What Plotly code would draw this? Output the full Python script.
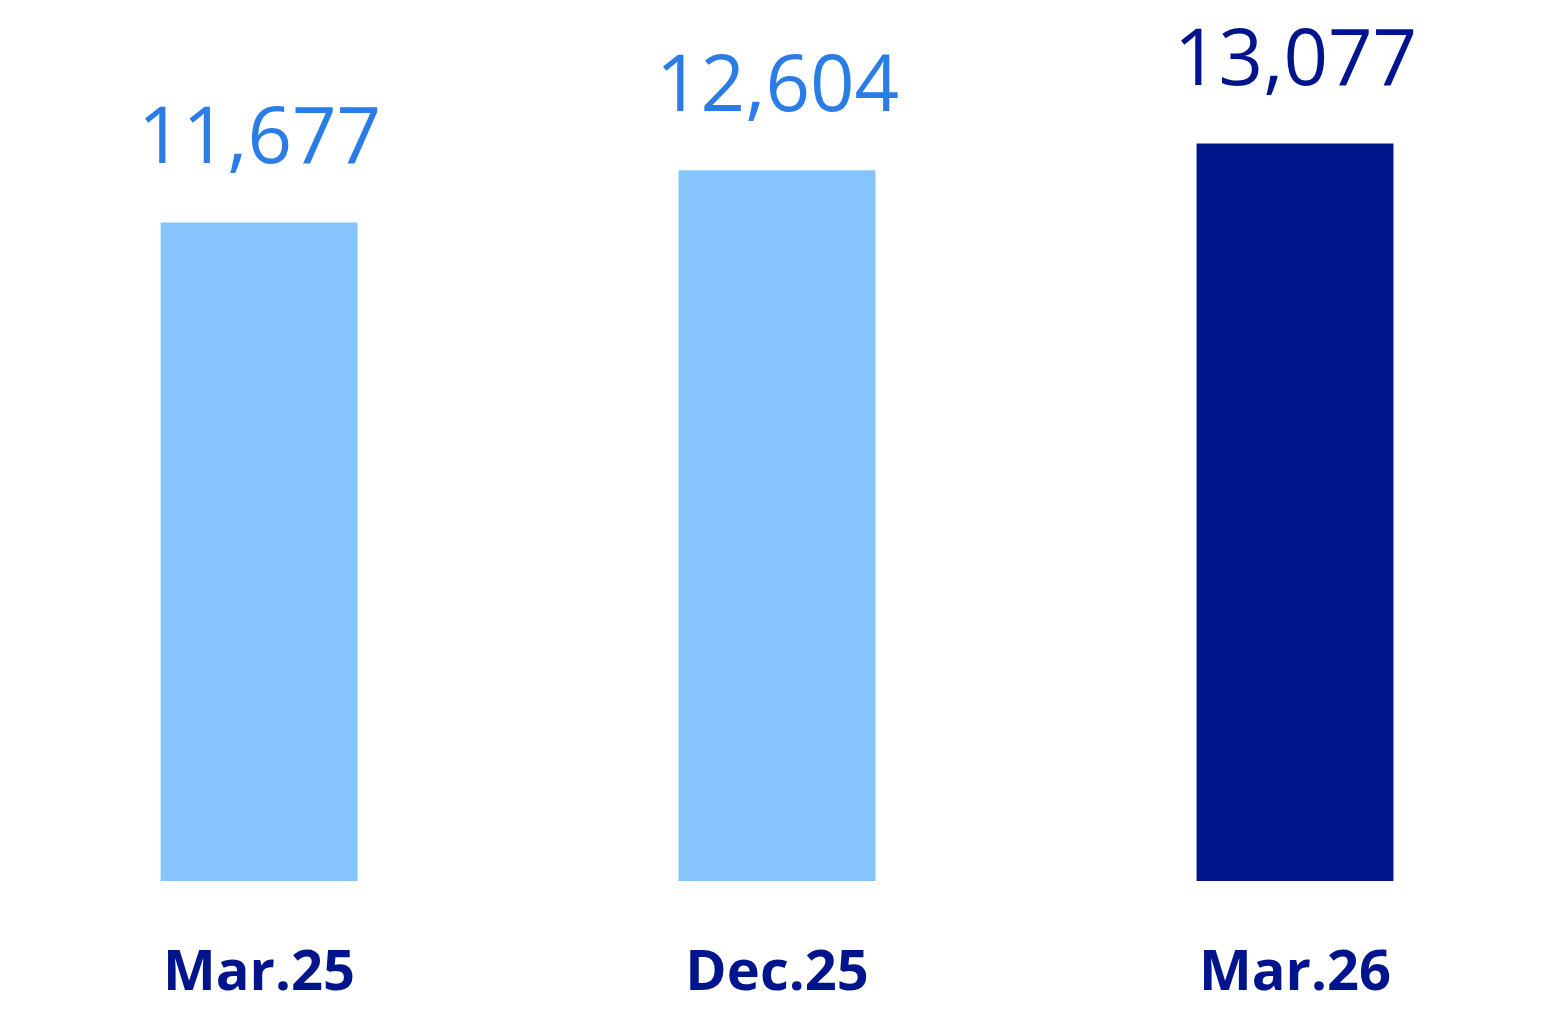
import plotly.graph_objects as go

categories = ["Mar.25", "Dec.25", "Mar.26"]
values = [11677, 12604, 13077]
labels = ["11,677", "12,604", "13,077"]
bar_colors = ["#85C4FC", "#85C4FC", "#00148C"]
label_colors = ["#2A7DE6", "#2A7DE6", "#00148C"]

fig = go.Figure(go.Bar(x=categories, y=values, marker_color=bar_colors, marker_line_width=0))

for c, v, t, col in zip(categories, values, labels, label_colors):
    fig.add_annotation(x=c, y=v, text=t, showarrow=False, yanchor="bottom", yshift=34,
                       font=dict(size=78, color=col, family="Open Sans"))

fig.update_layout(
    width=1554, height=1032,
    margin=dict(l=0, r=0, t=0, b=159),
    paper_bgcolor="white", plot_bgcolor="white",
    bargap=0.62, showlegend=False,
    xaxis=dict(tickfont=dict(size=56, color="#00148C", family="Open Sans"),
               ticklabelstandoff=52, showline=False, showgrid=False,
               range=[-0.4846, 2.5154]),
    yaxis=dict(range=[0, 15480], visible=False),
)
fig.update_xaxes(tickvals=categories, ticktext=[f"<b>{c}</b>" for c in categories])
fig.write_html("out.html")
